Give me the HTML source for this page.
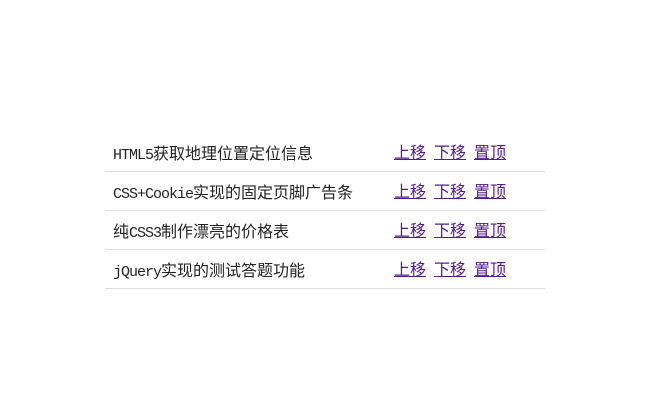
<!DOCTYPE html>
<html><head><meta charset="utf-8"><style>
html,body{margin:0;padding:0;background:#fff;width:650px;height:420px;overflow:hidden}
.row{position:absolute;left:105px;width:440px;height:38px;border-bottom:1px solid #ddd;font-family:"Noto Sans CJK SC","WenQuanYi Zen Hei",sans-serif;font-size:16px;color:#222}
.t{position:absolute;left:8px;top:9px;line-height:20px;white-space:nowrap}
.l{font-family:"Liberation Mono",monospace;font-size:15px;letter-spacing:-1px}
.a{position:absolute;top:8px;line-height:20px;color:#551a8b;text-decoration:underline;white-space:nowrap}
</style></head><body>
<div class="row" style="top:133px"><span class="t"><span class="l">HTML5</span>获取地理位置定位信息</span><span class="a" style="left:289px">上移</span><span class="a" style="left:329px">下移</span><span class="a" style="left:369px">置顶</span></div>
<div class="row" style="top:172px"><span class="t"><span class="l">CSS+Cookie</span>实现的固定页脚广告条</span><span class="a" style="left:289px">上移</span><span class="a" style="left:329px">下移</span><span class="a" style="left:369px">置顶</span></div>
<div class="row" style="top:211px"><span class="t">纯<span class="l">CSS3</span>制作漂亮的价格表</span><span class="a" style="left:289px">上移</span><span class="a" style="left:329px">下移</span><span class="a" style="left:369px">置顶</span></div>
<div class="row" style="top:250px"><span class="t"><span class="l">jQuery</span>实现的测试答题功能</span><span class="a" style="left:289px">上移</span><span class="a" style="left:329px">下移</span><span class="a" style="left:369px">置顶</span></div>
</body></html>
